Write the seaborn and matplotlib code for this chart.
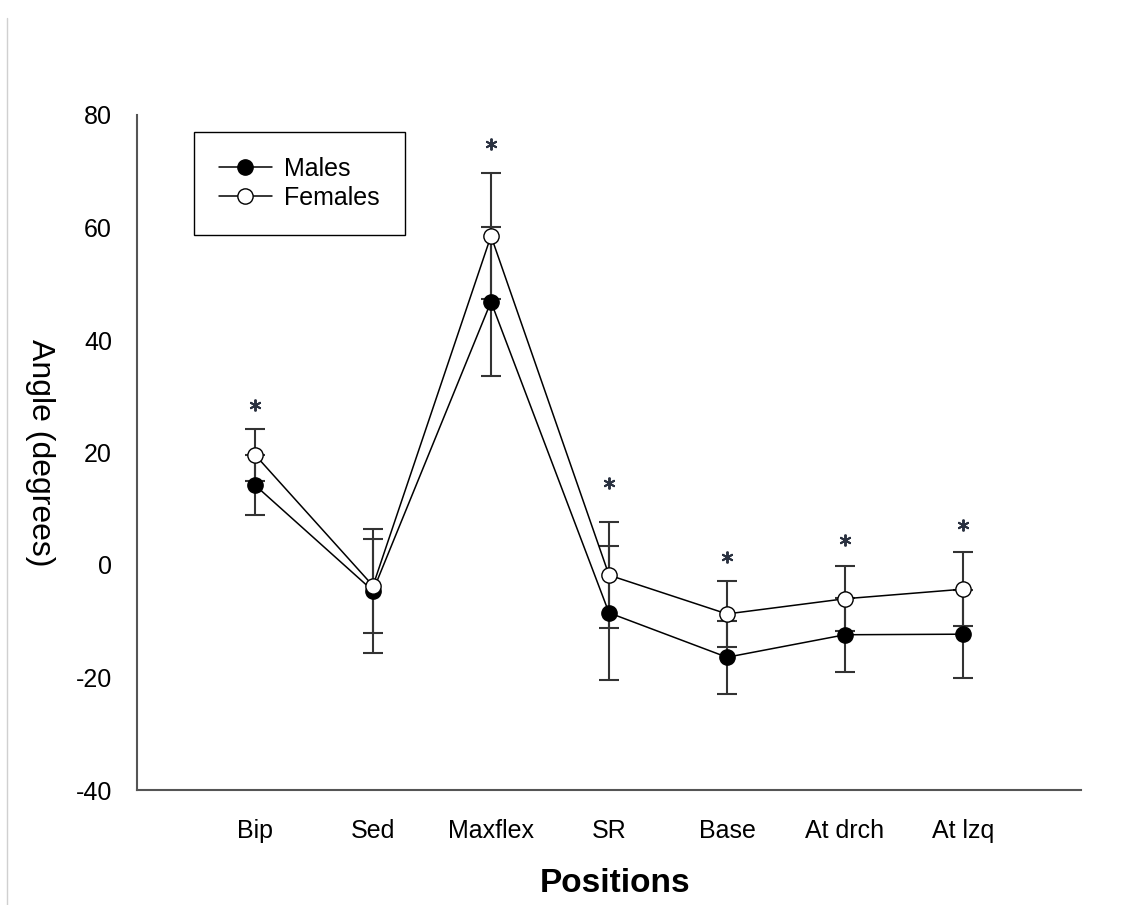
import numpy as np
import pandas as pd
import seaborn as sns
import matplotlib.pyplot as plt
from matplotlib.lines import Line2D

positions = ["Bip", "Sed", "Maxflex", "SR", "Base", "At drch", "At lzq"]
males_mean = [14.2, -4.6, 46.8, -8.5, -16.4, -12.4, -12.3]
males_sd = [5.3, 11.0, 13.2, 11.9, 6.5, 6.6, 7.8]
females_mean = [19.6, -3.7, 58.5, -1.8, -8.7, -6.0, -4.3]
females_sd = [4.6, 8.3, 11.2, 9.4, 5.9, 5.8, 6.6]
# significance marks (*) above these positions, y in degrees
star_pos = ["Bip", "Maxflex", "SR", "Base", "At drch", "At lzq"]
star_y = [28.4, 74.8, 14.6, 1.4, 4.4, 7.1]

sns.set_theme(style="white")
plt.rcParams["font.family"] = ["Liberation Sans", "DejaVu Sans"]
plt.rcParams["axes.unicode_minus"] = False
plt.rcParams["text.color"] = "black"
plt.rcParams["axes.labelcolor"] = "black"

x = np.arange(1, len(positions) + 1)
df = pd.DataFrame({
    "pos": np.concatenate([x, x]),
    "angle": males_mean + females_mean,
    "sd": males_sd + females_sd,
    "sex": ["Males"] * len(x) + ["Females"] * len(x),
})

fig = plt.figure(figsize=(11.25, 9.05), dpi=100)
ax = fig.add_axes([137 / 1125, 1 - 790 / 905, 944 / 1125, 675 / 905])

# error bars first so the markers sit on top
for sex in ["Males", "Females"]:
    d = df[df["sex"] == sex]
    ax.errorbar(d["pos"], d["angle"], yerr=d["sd"], fmt="none",
                ecolor="#333333", elinewidth=1.5, capsize=7, capthick=1.5, zorder=2)

sns.lineplot(data=df[df["sex"] == "Males"], x="pos", y="angle", ax=ax,
             color="black", lw=1.1, marker="o", markersize=11,
             markerfacecolor="black", markeredgecolor="black", markeredgewidth=1,
             label="Males", zorder=3)
sns.lineplot(data=df[df["sex"] == "Females"], x="pos", y="angle", ax=ax,
             color="black", lw=1.1, marker="o", markersize=11,
             markerfacecolor="white", markeredgecolor="black", markeredgewidth=1,
             label="Females", zorder=4)

sx = [positions.index(p) + 1 for p in star_pos]
ax.plot(sx, star_y, ls="none", marker=(6, 2, 0), markersize=8.5,
        markeredgewidth=1.4, color="#2a3140", zorder=5)

ax.set_xlim(0, 8)
ax.set_ylim(-40, 80)
ax.set_xticks(x)
ax.set_xticklabels(positions)
ax.set_yticks(np.arange(-40, 81, 20))

for s in ["top", "right"]:
    ax.spines[s].set_visible(False)
for s in ["left", "bottom"]:
    ax.spines[s].set_color("#555555")
    ax.spines[s].set_linewidth(1.5)

ax.tick_params(axis="both", direction="out", length=7, width=1.2, color="#555555",
               labelsize=18, labelcolor="black")
ax.tick_params(axis="y", pad=11)
ax.tick_params(axis="x", pad=14)

ax.set_xlabel("Positions", fontsize=24, fontweight="bold", color="black")
ax.xaxis.set_label_coords(0.506, -0.139)
ax.xaxis.label.set_va("center")
ax.set_ylabel("Angle (degrees)", fontsize=23, rotation=270, color="black")
ax.yaxis.set_label_coords(-0.103, 0.5)
ax.yaxis.label.set_va("center")

leg = ax.legend(loc="upper left", bbox_to_anchor=(194 / 1125, 1 - 132 / 905),
                bbox_transform=fig.transFigure, borderaxespad=0, fontsize=18,
                frameon=True, fancybox=False, edgecolor="black", framealpha=1,
                handlelength=2.1, handletextpad=0.5, labelspacing=0.2,
                borderpad=1.0)
leg.get_frame().set_linewidth(1.0)
for t in leg.get_texts():
    t.set_color("black")

# thin grey border line at the left edge of the picture
fig.add_artist(Line2D([7 / 1125, 7 / 1125], [0, 1 - 18 / 905],
                      transform=fig.transFigure, color="#d0d0d0", lw=1))

fig.savefig("out.png", dpi=100, facecolor="white")
